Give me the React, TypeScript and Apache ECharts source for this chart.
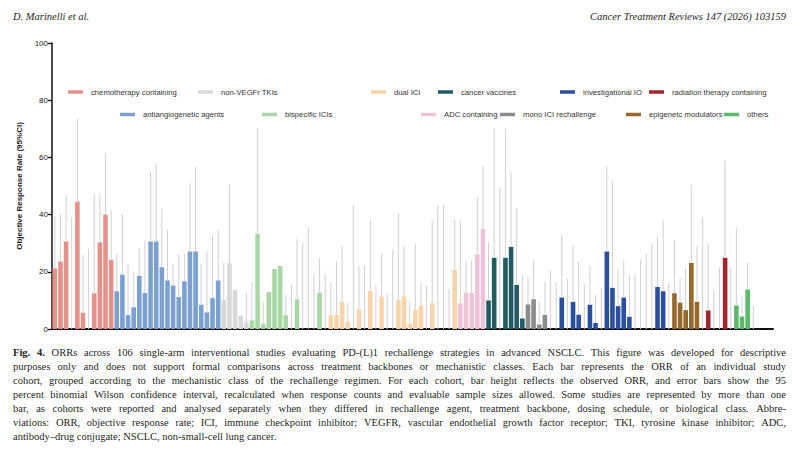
import React, { useEffect, useRef } from "react";
import * as echarts from "echarts";

// Objective response rates (%) and upper 95% Wilson bounds, per cohort, by regimen class
const chemoOrr = [21.2, 23.6, 30.6, 0, 44.5, 5.7, 0, 12.5, 30.3, 40.0, 24.2];
const chemoUpper = [39.6, 40.3, 46.9, 39.1, 73.5, 25.9, 28.0, 47.3, 47.5, 61.5, 41.7];

const antiangioOrr = [13.2, 19.0, 4.9, 7.6, 18.6, 12.6, 30.6, 30.6, 21.6, 17.0, 15.2, 11.2, 16.7, 27.1, 27.1, 8.5, 5.8, 10.8, 17.0];
const antiangioUpper = [26.2, 40.1, 22.7, 19.9, 28.3, 31.1, 55.0, 57.8, 42.1, 34.6, 22.7, 26.2, 26.2, 51.0, 56.6, 22.7, 27.0, 32.9, 34.6];

const nonVegfrOrr = [10.2, 23.0, 13.7, 4.7, 2.4];
const nonVegfrUpper = [23.1, 50.5, null, null, 12.6];

const bispecificOrr = [3.0, 33.3, 1.7, 12.9, 21.0, 22.0, 4.8, 0, 10.4, 0, 0, 0, 12.7, 0];
const bispecificUpper = [16.3, 70.0, 9.5, null, null, null, 12.0, 15.5, 31.4, 30.0, 35.5, 19.5, 24.9, 19.3];

const dualIciOrr = [4.8, 4.9, 9.5, 2.5, 0, 6.9, 0, 13.3, 0, 11.4, 0, 0, 10.1, 11.4, 1.7, 6.6, 8.2, 0, 9.0, 0, 0, 0, 20.7];
const dualIciUpper = [16.1, 23.8, 29.1, 9.2, 43.4, 22.1, 22.0, 38.1, 15.3, 26.2, 12.5, 27.9, 40.5, 29.1, 9.6, 29.9, 16.2, 15.3, 37.9, 43.4, 43.4, 14.0, 38.1];

const adcOrr = [9.0, 12.6, 12.6, 26.1, 35.0];
const adcUpper = [37.8, 23.9, 23.9, 46.0, 56.9];

const vaccineOrr = [10.0, 24.9, 0, 24.9, 28.7, 15.4, 3.7];
const vaccineUpper = [30.3, 70.0, 49.2, 70.0, 54.8, 42.4, 19.0];

const monoIciOrr = [8.6, 10.4, 1.6, 4.9, 0, 0];
const monoIciUpper = [18.6, 23.9, 9.8, 16.5, 20.4, 16.3];

const investigationalOrr = [11.0, 0, 9.5, 5.0, 0, 8.5, 2.1, 0, 27.1, 14.4, 8.0, 11.0, 4.3, 0, 0, 0, 0, 14.7, 13.2, 0];
const investigationalUpper = [32.9, 17.5, 29.1, 23.7, 15.8, 22.1, 11.8, 14.4, 56.8, 51.6, 21.3, 24.0, 19.0, 19.1, 24.2, 26.4, 29.9, 32.3, 38.1, 16.1];

const epigeneticOrr = [12.5, 9.2, 6.6, 23.1, 9.5, 0];
const epigeneticUpper = [31.1, 17.8, 21.5, 50.4, 29.0, 39.1];

const radiationOrr = [6.5, 0, 0, 24.9, 0];
const radiationUpper = [29.7, 13.9, 21.5, 59.0, 21.5];

const othersOrr = [8.2, 4.4, 13.8, 0];
const othersUpper = [35.4, 11.2, 23.2, 8.0];

// empty slots kept at the right end of the category axis
const TRAILING_SLOTS = 3;

const yTicks = [0, 20, 40, 60, 80, 100];

const groups = [
  { name: "chemotherapy containing", color: "#e3918a", orr: chemoOrr, upper: chemoUpper },
  { name: "antiangiogenetic agents", color: "#7ca0d0", orr: antiangioOrr, upper: antiangioUpper },
  { name: "non-VEGFr TKIs", color: "#d8d8d8", orr: nonVegfrOrr, upper: nonVegfrUpper },
  { name: "bispecific ICIs", color: "#a9d6a7", orr: bispecificOrr, upper: bispecificUpper },
  { name: "dual ICI", color: "#f8d4aa", orr: dualIciOrr, upper: dualIciUpper },
  { name: "ADC containing", color: "#eec3d8", orr: adcOrr, upper: adcUpper },
  { name: "cancer vaccines", color: "#215c63", orr: vaccineOrr, upper: vaccineUpper },
  { name: "mono ICI rechallenge", color: "#8c8c8c", orr: monoIciOrr, upper: monoIciUpper },
  { name: "investigational IO", color: "#2b4f9f", orr: investigationalOrr, upper: investigationalUpper },
  { name: "epigenetc modulators", color: "#95692c", orr: epigeneticOrr, upper: epigeneticUpper },
  { name: "radiation therapy containing", color: "#a3262c", orr: radiationOrr, upper: radiationUpper },
  { name: "others", color: "#5db86c", orr: othersOrr, upper: othersUpper },
];

// legend placement: [series name, swatch left, row centre]
const legendSlots: [string, number, number][] = [
  ["chemotherapy containing", 68, 93],
  ["non-VEGFr TKIs", 198, 93],
  ["dual ICI", 371, 93],
  ["cancer vaccines", 438, 93],
  ["investigational IO", 560, 93],
  ["radiation therapy containing", 649, 93],
  ["antiangiogenetic agents", 120, 115.5],
  ["bispecific ICIs", 262, 115.5],
  ["ADC containing", 421, 115.5],
  ["mono ICI rechallenge", 500, 115.5],
  ["epigenetc modulators", 626, 115.5],
  ["others", 724, 115.5],
];

const captionLines = [
  "Fig. 4. ORRs across 106 single-arm interventional studies evaluating PD-(L)1 rechallenge strategies in advanced NSCLC. This figure was developed for descriptive",
  "purposes only and does not support formal comparisons across treatment backbones or mechanistic classes. Each bar represents the ORR of an individual study",
  "cohort, grouped according to the mechanistic class of the rechallenge regimen. For each cohort, bar height reflects the observed ORR, and error bars show the 95",
  "percent binomial Wilson confidence interval, recalculated when response counts and evaluable sample sizes allowed. Some studies are represented by more than one",
  "bar, as cohorts were reported and analysed separately when they differed in rechallenge agent, treatment backbone, dosing schedule, or biological class. Abbre-",
  "viations: ORR, objective response rate; ICI, immune checkpoint inhibitor; VEGFR, vascular endothelial growth factor receptor; TKI, tyrosine kinase inhibitor; ADC,",
  "antibody\u2013drug conjugate; NSCLC, non-small-cell lung cancer.",
];

const SERIF = '"Liberation Serif", "Times New Roman", serif';
const SANS = '"Liberation Sans", Arial, Helvetica, sans-serif';

// Justified caption: each word is placed so that full lines span the text block
function buildCaption(): any[] {
  const canvas = document.createElement("canvas");
  const ctx = canvas.getContext("2d")!;
  const size = 10.5;
  const normal = `${size}px ${SERIF}`;
  const bold = `bold ${size}px ${SERIF}`;
  const left = 13;
  const right = 786;
  const top = 352;
  const lineStep = 14;
  const out: any[] = [];
  captionLines.forEach((line, li) => {
    const words = line.split(" ");
    const fonts = words.map((w, wi) => (li === 0 && wi < 2 ? bold : normal));
    const widths = words.map((w, wi) => {
      ctx.font = fonts[wi];
      return ctx.measureText(w).width;
    });
    ctx.font = normal;
    const space = ctx.measureText(" ").width;
    const total = widths.reduce((a, b) => a + b, 0);
    const last = li === captionLines.length - 1;
    const gap = last ? space : (right - left - total) / (words.length - 1);
    let x = left;
    words.forEach((w, wi) => {
      out.push({
        type: "text",
        x,
        y: top + li * lineStep,
        silent: true,
        style: { text: w, font: fonts[wi], fill: "#231f20", textAlign: "left", textVerticalAlign: "middle" },
      });
      x += widths[wi] + gap;
    });
  });
  return out;
}

export default function App() {
  const ref = useRef<HTMLDivElement>(null);

  useEffect(() => {
    if (!ref.current) return;
    const chart = echarts.init(ref.current, null, { renderer: "svg" });

    const cohortCount = groups.reduce((n, g) => n + g.orr.length, 0);
    const slotCount = cohortCount + TRAILING_SLOTS;
    const categories = Array.from({ length: slotCount }, (_, i) => String(i + 1));

    const barSeries: any[] = [];
    const errorData: any[] = [];
    let offset = 0;
    groups.forEach((g) => {
      const data: any[] = new Array(slotCount).fill("-");
      g.orr.forEach((v, i) => {
        data[offset + i] = v;
        const u = g.upper[i];
        if (u !== null && u !== undefined) errorData.push([offset + i, v, u]);
      });
      offset += g.orr.length;
      barSeries.push({
        name: g.name,
        type: "bar",
        stack: "orr",
        data,
        barWidth: 4.6,
        itemStyle: { color: g.color },
        z: 2,
      });
    });

    const errorSeries = {
      name: "95% CI",
      type: "custom",
      data: errorData,
      encode: { x: 0, y: 2 },
      z: 3,
      silent: true,
      renderItem: (params: any, api: any) => {
        const x = api.value(0);
        const p0 = api.coord([x, api.value(1)]);
        const p1 = api.coord([x, api.value(2)]);
        return {
          type: "line",
          shape: { x1: p0[0], y1: p0[1], x2: p1[0], y2: p1[1] },
          style: { stroke: "#d0d0d0", lineWidth: 1 },
        };
      },
    };

    const legends = legendSlots.map(([name, left, cy]) => ({
      data: [name],
      left,
      top: cy - 5,
      padding: 0,
      icon: "rect",
      itemWidth: 15,
      itemHeight: 3.5,
      selectedMode: false,
      textStyle: { fontFamily: SANS, fontSize: 7.7, color: "#333", padding: [0, 0, 0, 3] },
    }));

    chart.setOption({
      animation: false,
      backgroundColor: "#ffffff",
      grid: { left: 52, right: 27, top: 43, bottom: 126, containLabel: false },
      legend: legends,
      xAxis: {
        type: "category",
        data: categories,
        boundaryGap: true,
        axisLine: { show: true, lineStyle: { color: "#111", width: 2 } },
        axisTick: { show: false },
        axisLabel: { show: false },
        splitLine: { show: false },
      },
      yAxis: {
        type: "value",
        min: yTicks[0],
        max: yTicks[yTicks.length - 1],
        interval: yTicks[1] - yTicks[0],
        name: "Objective Response Rate (95%CI)",
        nameLocation: "middle",
        nameRotate: 90,
        nameGap: 26,
        nameTextStyle: { fontFamily: SANS, fontSize: 8, fontWeight: "bold", color: "#222" },
        axisLine: { show: true, lineStyle: { color: "#111", width: 1.5 } },
        axisTick: { show: true, length: 4, lineStyle: { color: "#111", width: 1.3 } },
        axisLabel: { fontFamily: SANS, fontSize: 8, color: "#222", margin: 4 },
        splitLine: { show: false },
      },
      series: [...barSeries, errorSeries],
      graphic: [
        {
          type: "text",
          x: 13,
          y: 16,
          silent: true,
          style: { text: "D. Marinelli et al.", font: `italic 10.5px ${SERIF}`, fill: "#231f20", textAlign: "left", textVerticalAlign: "middle" },
        },
        {
          type: "text",
          x: 786,
          y: 16,
          silent: true,
          style: { text: "Cancer Treatment Reviews 147 (2026) 103159", font: `italic 10.5px ${SERIF}`, fill: "#231f20", textAlign: "right", textVerticalAlign: "middle" },
        },
        ...buildCaption(),
      ],
    });

    return () => chart.dispose();
  }, []);

  return (
    <div
      ref={ref}
      style={{ position: "fixed", left: 0, top: 0, width: 800, height: 455, background: "#fff" }}
    />
  );
}
